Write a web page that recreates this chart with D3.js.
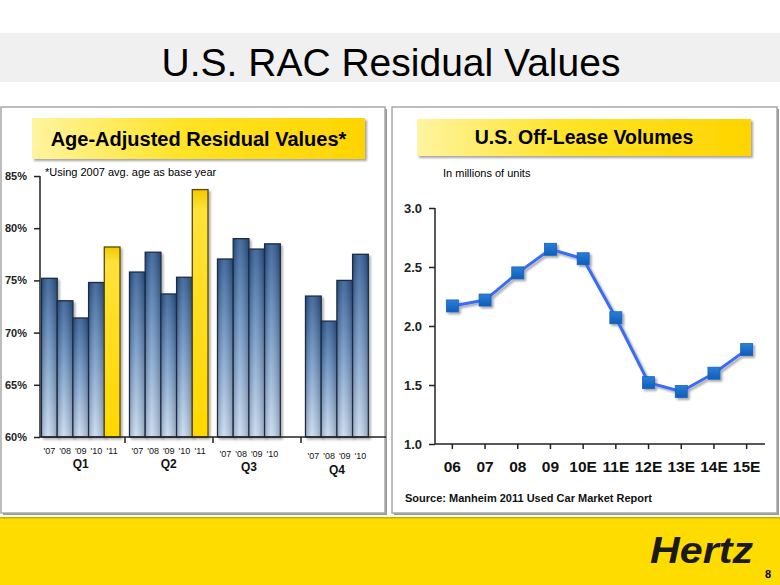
<!DOCTYPE html>
<html><head><meta charset="utf-8">
<script src="https://cdn.jsdelivr.net/npm/d3@7"></script>
<style>html,body{margin:0;padding:0;background:#fff}svg{display:block}</style>
</head><body>
<script>
// ---------- data ----------
const quarters = ["Q1","Q2","Q3","Q4"];
const yearLabels = ["'07","'08","'09","'10","'11"];
const residualQ1 = [75.2, 73.05, 71.4, 74.8, 78.2];
const residualQ2 = [75.8, 77.7, 73.7, 75.3, 83.7];
const residualQ3 = [77.05, 79.0, 78.0, 78.5];
const residualQ4 = [73.5, 71.1, 75.0, 77.5];
const residualTicks = [60, 65, 70, 75, 80, 85];

const leaseYears = ["06","07","08","09","10E","11E","12E","13E","14E","15E"];
const leaseVolumes = [2.17, 2.22, 2.45, 2.65, 2.57, 2.07, 1.52, 1.445, 1.60, 1.80];
const leaseTicks = [1.0, 1.5, 2.0, 2.5, 3.0];

const W = 780, H = 585;
const svg = d3.select("body").append("svg").attr("width", W).attr("height", H)
  .style("font-family", "'Liberation Sans', Arial, sans-serif");
const defs = svg.append("defs");

// gradients / filters
const gBlue = defs.append("linearGradient").attr("id","gBlue").attr("x1",0).attr("y1",0).attr("x2",0).attr("y2",1);
gBlue.append("stop").attr("offset","0%").attr("stop-color","#2f5a92");
gBlue.append("stop").attr("offset","45%").attr("stop-color","#6f95c4");
gBlue.append("stop").attr("offset","100%").attr("stop-color","#c7daf0");
const gBlueH = defs.append("linearGradient").attr("id","gBlueH").attr("x1",0).attr("y1",0).attr("x2",1).attr("y2",0);
gBlueH.append("stop").attr("offset","0%").attr("stop-color","#000").attr("stop-opacity",0.18);
gBlueH.append("stop").attr("offset","40%").attr("stop-color","#fff").attr("stop-opacity",0.12);
gBlueH.append("stop").attr("offset","100%").attr("stop-color","#000").attr("stop-opacity",0.22);
const gYel = defs.append("linearGradient").attr("id","gYel").attr("x1",0).attr("y1",0).attr("x2",0).attr("y2",1);
gYel.append("stop").attr("offset","0%").attr("stop-color","#f2c800");
gYel.append("stop").attr("offset","8%").attr("stop-color","#ffe23a");
gYel.append("stop").attr("offset","100%").attr("stop-color","#ffd800");
const gHead = defs.append("linearGradient").attr("id","gHead").attr("x1",0).attr("y1",0).attr("x2",1).attr("y2",0);
gHead.append("stop").attr("offset","0%").attr("stop-color","#fff4a0");
gHead.append("stop").attr("offset","45%").attr("stop-color","#ffe326");
gHead.append("stop").attr("offset","100%").attr("stop-color","#ffd400");
const gMark = defs.append("linearGradient").attr("id","gMark").attr("x1",0).attr("y1",0).attr("x2",0).attr("y2",1);
gMark.append("stop").attr("offset","0%").attr("stop-color","#2a7fd8");
gMark.append("stop").attr("offset","100%").attr("stop-color","#0f5db8");
const fShadow = defs.append("filter").attr("id","shadow").attr("x","-20%").attr("y","-20%").attr("width","150%").attr("height","150%");
fShadow.append("feDropShadow").attr("dx",2).attr("dy",2).attr("stdDeviation",1.2).attr("flood-color","#000").attr("flood-opacity",0.35);
const fShadowS = defs.append("filter").attr("id","shadowS").attr("x","-20%").attr("y","-20%").attr("width","150%").attr("height","150%");
fShadowS.append("feDropShadow").attr("dx",2).attr("dy",2).attr("stdDeviation",1).attr("flood-color","#000").attr("flood-opacity",0.3);

// ---------- page chrome ----------
svg.append("rect").attr("x",0).attr("y",0).attr("width",W).attr("height",H).attr("fill","#fff");
svg.append("rect").attr("x",0).attr("y",33).attr("width",W).attr("height",49).attr("fill","#f0f0f0");
svg.append("text").attr("x",391).attr("y",76).attr("text-anchor","middle")
  .attr("font-size",39).attr("fill","#000").text("U.S. RAC Residual Values");

svg.append("rect").attr("x",0).attr("y",517).attr("width",W).attr("height",68).attr("fill","#ffdc00");
svg.append("rect").attr("x",0).attr("y",517).attr("width",W).attr("height",1.5).attr("fill","#c9b000");
svg.append("text").attr("x",650).attr("y",563).attr("font-size",37).attr("font-weight","bold")
  .attr("font-style","italic").attr("fill","#1a1a1a").attr("textLength",103)
  .attr("lengthAdjust","spacingAndGlyphs").text("Hertz");
svg.append("text").attr("x",768).attr("y",578).attr("text-anchor","middle").attr("font-size",11)
  .attr("font-weight","bold").attr("fill","#000").text("8");

function panel(x, y, w, h) {
  svg.append("rect").attr("x",x+2).attr("y",y+2).attr("width",w).attr("height",h).attr("fill","#9a9a9a");
  svg.append("rect").attr("x",x).attr("y",y).attr("width",w).attr("height",h)
    .attr("fill","#fff").attr("stroke","#a8a8a8").attr("stroke-width",1.5);
}
panel(1, 107, 384, 406);
panel(392, 107, 385, 406);

function header(x, y, w, h, label, fs, ty) {
  svg.append("rect").attr("x",x).attr("y",y).attr("width",w).attr("height",h)
    .attr("fill","url(#gHead)").attr("filter","url(#shadow)");
  svg.append("text").attr("x",x+w/2).attr("y",ty).attr("text-anchor","middle")
    .attr("font-size",fs).attr("font-weight","bold").attr("fill","#000").text(label);
}
header(32, 118, 333, 41, "Age-Adjusted Residual Values*", 20, 146);
header(417, 119, 334, 37, "U.S. Off-Lease Volumes", 19.5, 144);

// ---------- left chart: bars ----------
const yL = d3.scaleLinear().domain([60, 85]).range([437, 176]);
const xQ = d3.scaleBand().domain(quarters).range([37, 389]).paddingInner(0);
const xY = d3.scaleBand().domain(yearLabels).range([4.5, 83]).padding(0);
const groups = [residualQ1, residualQ2, residualQ3, residualQ4];

svg.append("text").attr("x",45).attr("y",176).attr("font-size",11).attr("fill","#000")
  .text("*Using 2007 avg. age as base year");

const yAxisL = svg.append("g").attr("transform","translate(40,0)")
  .call(d3.axisLeft(yL).tickValues(residualTicks).tickSize(6).tickFormat(d => d + "%"));
yAxisL.select(".domain").attr("stroke","#222").attr("stroke-width",1.5).attr("d","M0,176V437");
yAxisL.selectAll(".tick line").attr("stroke","#222").attr("stroke-width",1.5);
yAxisL.selectAll(".tick text").attr("x",-13).attr("font-size",11).attr("font-weight","bold")
  .attr("fill","#222").style("font-family","'Liberation Sans', Arial, sans-serif");

groups.forEach((vals, qi) => {
  const g = svg.append("g").attr("transform", `translate(${xQ(quarters[qi])},0)`);
  vals.forEach((v, yi) => {
    const x = xY(yearLabels[yi]), w = xY.bandwidth();
    const isYellow = yearLabels[yi] === "'11";
    g.append("rect").attr("x",x).attr("y",yL(v)).attr("width",w).attr("height",yL(60)-yL(v))
      .attr("fill", isYellow ? "url(#gYel)" : "url(#gBlue)")
      .attr("stroke", isYellow ? "#5a4a00" : "#1b2b45").attr("stroke-width",1.3)
      .attr("filter","url(#shadowS)");
    if (!isYellow) {
      g.append("rect").attr("x",x+0.7).attr("y",yL(v)+0.7).attr("width",w-1.4).attr("height",yL(60)-yL(v)-1.4)
        .attr("fill","url(#gBlueH)");
    }
    g.append("text").attr("x",x+w/2).attr("y",454 + (qi>=2 ? qi-1 : 0)*2.5)
      .attr("text-anchor","middle").attr("font-size",9).attr("fill","#111").text(yearLabels[yi]);
  });
  const cx = xY(yearLabels[0]) + xY.bandwidth()*vals.length/2;
  g.append("text").attr("x",cx).attr("y",468 + (qi>=2 ? qi-1 : 0)*3).attr("text-anchor","middle")
    .attr("font-size",12).attr("font-weight","bold").attr("fill","#111").text(quarters[qi]);
});

// x baseline and separator ticks
const xAxisL = svg.append("g").attr("transform","translate(0,437)")
  .call(d3.axisBottom(xQ).tickSize(0).tickFormat(""));
xAxisL.select(".domain").attr("stroke","#222").attr("stroke-width",1.5).attr("d","M40,0H386");
xAxisL.selectAll(".tick").remove();
quarters.slice(1).forEach(q => {
  svg.append("line").attr("x1",xQ(q)).attr("x2",xQ(q)).attr("y1",437).attr("y2",443)
    .attr("stroke","#222").attr("stroke-width",1.5);
});

// ---------- right chart: line ----------
const yR = d3.scaleLinear().domain([1, 3]).range([444, 208]);
const xR = d3.scaleBand().domain(leaseYears).range([436, 763]);

svg.append("text").attr("x",443).attr("y",177).attr("font-size",11).attr("fill","#000")
  .text("In millions of units");

const yAxisR = svg.append("g").attr("transform","translate(435,0)")
  .call(d3.axisLeft(yR).tickValues(leaseTicks).tickSize(6).tickFormat(d3.format(".1f")));
yAxisR.select(".domain").attr("stroke","#222").attr("stroke-width",1.5).attr("d","M0,208V444");
yAxisR.selectAll(".tick line").attr("stroke","#222").attr("stroke-width",1.5);
yAxisR.selectAll(".tick text").attr("x",-13).attr("font-size",13).attr("font-weight","bold")
  .attr("fill","#222").style("font-family","'Liberation Sans', Arial, sans-serif");

const xAxisR = svg.append("g").attr("transform","translate(0,444)")
  .call(d3.axisBottom(xR).tickSize(5).tickPadding(12));
xAxisR.select(".domain").attr("stroke","#222").attr("stroke-width",1.5).attr("d","M435,0H765");
xAxisR.selectAll(".tick line").attr("stroke","#222").attr("stroke-width",1.5);
xAxisR.selectAll(".tick text").attr("font-size",15.5).attr("font-weight","bold").attr("fill","#111")
  .style("font-family","'Liberation Sans', Arial, sans-serif");

const line = d3.line().x((d,i) => xR(leaseYears[i]) + xR.bandwidth()/2).y(d => yR(d));
const lg = svg.append("g").attr("filter","url(#shadow)");
lg.append("path").datum(leaseVolumes).attr("d", line).attr("fill","none")
  .attr("stroke","#3a6cf4").attr("stroke-width",3).attr("stroke-linejoin","round");
lg.selectAll("rect.m").data(leaseVolumes).enter().append("rect").attr("class","m")
  .attr("x",(d,i) => xR(leaseYears[i]) + xR.bandwidth()/2 - 6)
  .attr("y",d => yR(d) - 6).attr("width",12).attr("height",12)
  .attr("fill","url(#gMark)").attr("stroke","#1660c0").attr("stroke-width",0.8);

svg.append("text").attr("x",405).attr("y",501.5).attr("font-size",11).attr("font-weight","bold")
  .attr("fill","#111").text("Source: Manheim 2011 Used Car Market Report");
</script>
</body></html>
